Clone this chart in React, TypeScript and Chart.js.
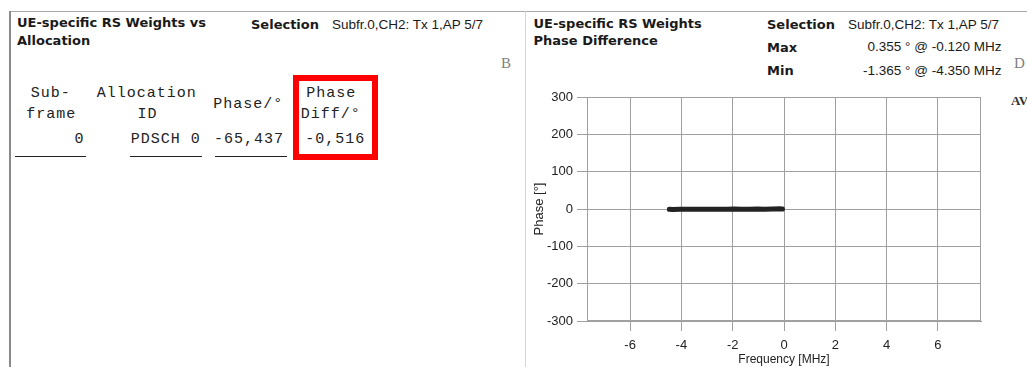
import React, { useEffect, useRef } from "react";
import { Chart, registerables } from "chart.js";

Chart.register(...registerables);

// ---- Chart data ----
const freqMHz = [-4.47, -4.35, -4.05, -3.75, -3.45, -3.15, -2.85, -2.55, -2.25, -1.95, -1.65, -1.35, -1.05, -0.75, -0.45, -0.12, -0.06];
const phaseDiffDeg = [-0.92, -1.365, -0.71, -0.48, -0.83, -0.36, -0.62, -0.95, -0.41, -0.27, -0.74, -0.53, -0.19, -0.66, -0.08, 0.355, -0.22];
const xTickValues = [-6, -4, -2, 0, 2, 4, 6];
const yTickValues = [-300, -200, -100, 0, 100, 200, 300];
const xRange = [-7.68, 7.68];
const yRange = [-300, 300];

// ---- Table data ----
const subframes = ["0"];
const allocationIds = ["PDSCH 0"];
const phases = ["-65,437"];
const phaseDiffs = ["-0,516"];

const selectionText = "Subfr.0,CH2: Tx 1,AP 5/7";
const maxText = "0.355 ° @ -0.120 MHz";
const minText = "-1.365 ° @ -4.350 MHz";

const SANS = "'Liberation Sans', Arial, sans-serif";
const BOLD = "'DejaVu Sans', 'Liberation Sans', sans-serif";
const MONO = "'Liberation Mono', 'Courier New', monospace";
const SERIF = "'Liberation Serif', 'Times New Roman', serif";

const BASE: Record<string, number> = { sans: 0.8465, bold: 0.846, mono: 0.7665, serif: 0.8375 };
const FAM: Record<string, string> = { sans: SANS, bold: BOLD, mono: MONO, serif: SERIF };

function T(props: {
  x?: number; right?: number; b: number; f: number; k: string; w?: number | string;
  color?: string; ls?: number; children: React.ReactNode;
}) {
  const { x, right, b, f, k, w, color, ls, children } = props;
  const style: React.CSSProperties = {
    position: "absolute",
    top: b - BASE[k] * f,
    fontSize: f,
    lineHeight: f + "px",
    fontFamily: FAM[k],
    fontWeight: (w as any) ?? "normal",
    color: color ?? "#1a1a1a",
    whiteSpace: "pre",
    letterSpacing: ls ?? 0,
  };
  if (right !== undefined) style.right = 1027 - right;
  else style.left = x;
  return <div style={style}>{children}</div>;
}

const frameBorder = {
  id: "frameBorder",
  beforeDatasetsDraw(chart: any) {
    const { ctx, chartArea } = chart;
    const l = Math.round(chartArea.left) + 0.5;
    const t = Math.round(chartArea.top) + 0.5;
    const r = Math.round(chartArea.right) - 0.5;
    const btm = Math.round(chartArea.bottom) - 0.5;
    ctx.save();
    ctx.strokeStyle = "#a0a0a0";
    ctx.lineWidth = 1;
    ctx.strokeRect(l, t, r - l, btm - t);
    ctx.restore();
  },
};

function PhaseChart() {
  const ref = useRef<HTMLCanvasElement | null>(null);
  useEffect(() => {
    if (!ref.current) return;
    const gridColor = "#a0a0a0";
    const chart = new Chart(ref.current, {
      type: "line",
      data: {
        datasets: [
          {
            data: freqMHz.map((f, i) => ({ x: f, y: phaseDiffDeg[i] })),
            borderColor: "#222222",
            borderWidth: 5,
            borderCapStyle: "round",
            borderJoinStyle: "round",
            pointRadius: 0,
            tension: 0,
            fill: false,
          },
        ],
      },
      options: {
        animation: false,
        responsive: false,
        devicePixelRatio: 1,
        layout: { padding: { left: 0, right: 15, top: 17, bottom: 0 } },
        plugins: { legend: { display: false }, tooltip: { enabled: false } },
        scales: {
          x: {
            type: "linear",
            position: "bottom",
            min: xRange[0],
            max: xRange[1],
            afterBuildTicks: (axis: any) => {
              axis.ticks = xTickValues.map((v) => ({ value: v }));
            },
            afterFit: (axis: any) => {
              axis.height = 46;
            },
            grid: { color: gridColor, lineWidth: 1, tickLength: 10, drawTicks: true, tickColor: gridColor },
            border: { display: true, color: gridColor },
            ticks: {
              autoSkip: false,
              maxRotation: 0,
              padding: 7,
              color: "#222",
              font: { family: SANS, size: 13 },
            },
            title: {
              display: true,
              text: "Frequency [MHz]",
              color: "#222",
              font: { family: SANS, size: 12 },
              padding: { top: 0, bottom: 0 },
            },
          },
          y: {
            type: "linear",
            min: yRange[0],
            max: yRange[1],
            afterBuildTicks: (axis: any) => {
              axis.ticks = yTickValues.map((v) => ({ value: v }));
            },
            afterFit: (axis: any) => {
              axis.width = 61;
            },
            grid: { color: gridColor, lineWidth: 1, tickLength: 10, drawTicks: true, tickColor: gridColor },
            border: { display: true, color: gridColor },
            ticks: {
              autoSkip: false,
              padding: 4,
              color: "#222",
              font: { family: SANS, size: 13 },
            },
            title: {
              display: true,
              text: "Phase [°]",
              color: "#222",
              font: { family: SANS, size: 13 },
              padding: { top: 6, bottom: 0 },
            },
          },
        },
      },
      plugins: [frameBorder],
    } as any);
    return () => chart.destroy();
  }, []);
  return (
    <div style={{ position: "absolute", left: 526, top: 80, width: 470, height: 287 }}>
      <canvas ref={ref} width={470} height={287} style={{ width: 470, height: 287, display: "block" }} />
    </div>
  );
}

export default function App() {
  return (
    <div
      style={{
        position: "fixed",
        left: 0,
        top: 0,
        width: 1027,
        height: 367,
        overflow: "hidden",
        background: "#ffffff",
      }}
    >
      {/* frame lines */}
      <div style={{ position: "absolute", left: 10, top: 11, width: 1017, height: 1, background: "#a8a8a8" }} />
      <div style={{ position: "absolute", left: 9, top: 11, width: 2, height: 356, background: "#8a8a8a" }} />
      <div style={{ position: "absolute", left: 525, top: 11, width: 1, height: 356, background: "#d4d4d4" }} />

      {/* left panel header */}
      <T x={17} b={27} f={13} k="bold" w="bold">UE-specific RS Weights vs</T>
      <T x={17} b={44.5} f={13} k="bold" w="bold">Allocation</T>
      <T x={251} b={29} f={13} k="bold" w="bold">Selection</T>
      <T x={332} b={29} f={13.5} k="sans">{selectionText}</T>
      <T x={501} b={69} f={15} k="serif" color="#808080">B</T>

      {/* table */}
      <T x={30.7} b={97.7} f={15} k="mono" ls={1} color="#222">Sub-</T>
      <T x={26.3} b={118} f={15} k="mono" ls={1} color="#222">frame</T>
      <T x={96.7} b={97.7} f={15} k="mono" ls={1} color="#222">Allocation</T>
      <T x={137.5} b={118} f={15} k="mono" ls={1} color="#222">ID</T>
      <T x={213.3} b={108.5} f={15} k="mono" ls={1} color="#222">Phase/°</T>
      <T x={306.3} b={97.5} f={15} k="mono" ls={1} color="#222">Phase</T>
      <T x={300.7} b={118} f={15} k="mono" ls={1} color="#222">Diff/°</T>
      {subframes.map((s, i) => (
        <T key={"s" + i} x={74.5} b={143 + i * 26} f={15} k="mono" ls={1} color="#222">{s}</T>
      ))}
      {allocationIds.map((s, i) => (
        <T key={"a" + i} x={130.7} b={143 + i * 26} f={15} k="mono" ls={1} color="#222">{s}</T>
      ))}
      {phases.map((s, i) => (
        <T key={"p" + i} x={214} b={143 + i * 26} f={15} k="mono" ls={1} color="#222">{s}</T>
      ))}
      {phaseDiffs.map((s, i) => (
        <T key={"d" + i} x={305.3} b={143 + i * 26} f={15} k="mono" ls={1} color="#222">{s}</T>
      ))}
      <div style={{ position: "absolute", left: 15, top: 156, width: 71, height: 1, background: "#222" }} />
      <div style={{ position: "absolute", left: 130, top: 156, width: 72, height: 1, background: "#222" }} />
      <div style={{ position: "absolute", left: 215, top: 156, width: 72, height: 1, background: "#222" }} />
      <div
        style={{
          position: "absolute",
          left: 293,
          top: 75,
          width: 85,
          height: 85,
          border: "6px solid #ff0000",
          boxSizing: "border-box",
        }}
      />

      {/* right panel header */}
      <T x={533.5} b={27.5} f={13} k="bold" w="bold">UE-specific RS Weights</T>
      <T x={533.5} b={44.5} f={13} k="bold" w="bold">Phase Difference</T>
      <T x={767} b={29} f={13} k="bold" w="bold">Selection</T>
      <T x={848} b={29} f={13.5} k="sans">{selectionText}</T>
      <T x={767} b={51.5} f={13} k="bold" w="bold">Max</T>
      <T right={1001.5} b={51.5} f={13.5} k="sans">{maxText}</T>
      <T x={767} b={75} f={13} k="bold" w="bold">Min</T>
      <T right={1001.5} b={75} f={13.5} k="sans">{minText}</T>
      <T x={1014} b={69} f={15} k="serif" color="#808080">D</T>
      <T x={1011} b={104.5} f={13} k="serif" w="bold" color="#333">AV</T>

      <PhaseChart />
    </div>
  );
}
